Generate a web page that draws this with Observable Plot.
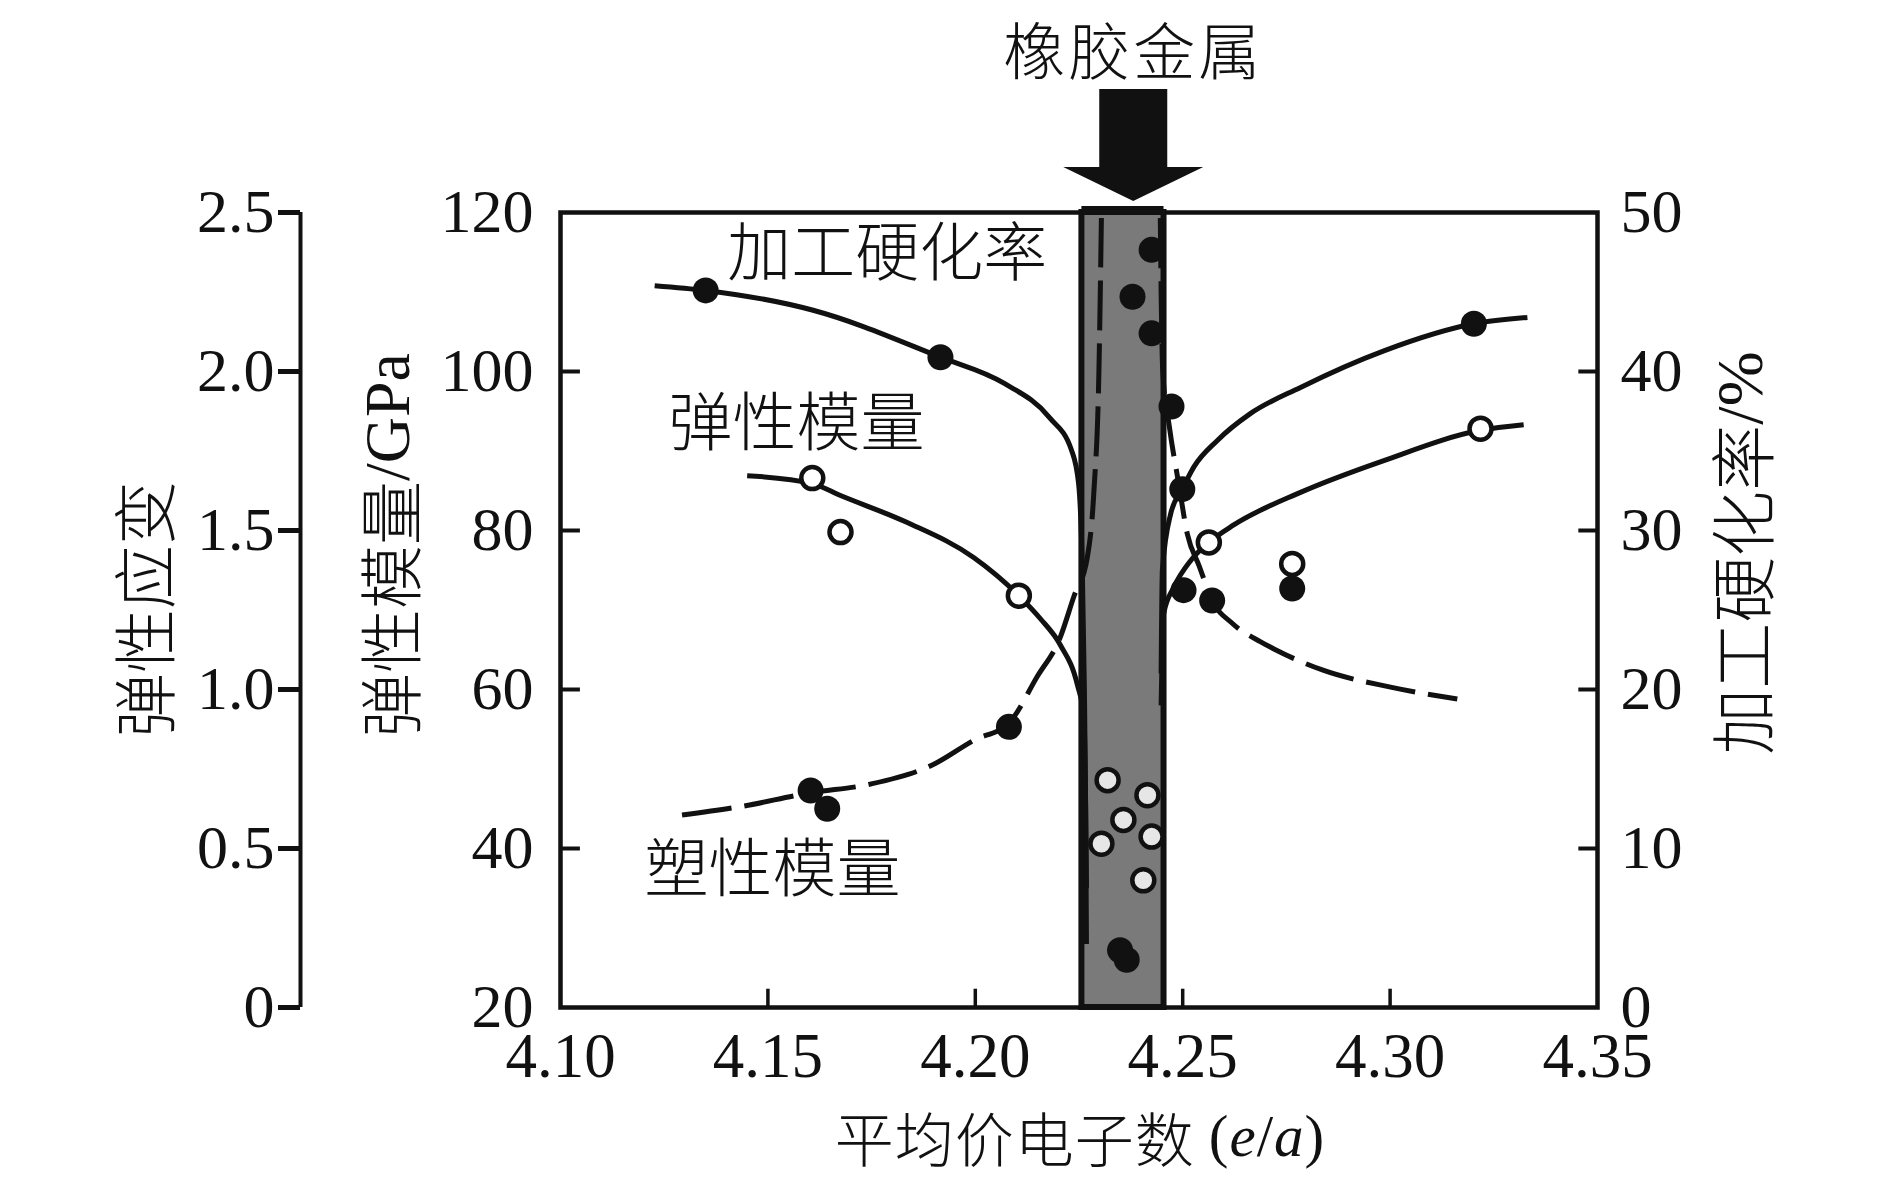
<!DOCTYPE html>
<html>
<head>
<meta charset="utf-8">
<script src="https://cdn.jsdelivr.net/npm/d3@7"></script>
<script src="https://cdn.jsdelivr.net/npm/@observablehq/plot@0.6"></script>
<style>
  html, body { margin: 0; padding: 0; background: #fff; }
  #chart { width: 1890px; height: 1181px; }
</style>
</head>
<body>
<div id="chart"></div>
<script>
// ---------- axes / ticks ----------
const xDomain = [4.10, 4.35];
const yDomain = [20, 120];                 // 弹性模量/GPa (left axis)
const xTicks = [4.10, 4.15, 4.20, 4.25, 4.30, 4.35];
const gpaTicks = [20, 40, 60, 80, 100, 120];
const pctTicks = [0, 10, 20, 30, 40, 50];  // 加工硬化率/% (right axis)
const strainTicks = [0, 0.5, 1.0, 1.5, 2.0, 2.5];
const strainLabels = ["0", "0.5", "1.0", "1.5", "2.0", "2.5"];
const band = [4.2257, 4.2455];             // 橡胶金属 region (e/a)
const arrowX = 4.2382;

// ---------- series: [e/a, value] ----------
// 加工硬化率 (%)
const hardeningLeft = [[4.1227,45.4],[4.1350,45.1],[4.1609,43.85],[4.1916,40.9],[4.2070,39.25],[4.2179,37.1],[4.2232,35.05],[4.2249,32.95],[4.2258,27.5],[4.2263,20],[4.2266,12.5],[4.2268,4]];
const hardeningRight = [[4.2448,21],[4.2451,27.5],[4.2471,31.05],[4.2499,32.6],[4.2527,34],[4.2583,35.65],[4.2663,37.35],[4.2784,39],[4.2985,41.3],[4.3202,43],[4.3331,43.4]];
const hardeningDots = [[4.1350,45.1],[4.1916,40.9],[4.3202,43.0],[4.2349,3.6],[4.2365,3.0]];

// 弹性模量 (GPa)
const modulusLeft = [[4.1450,86.9],[4.1607,85.9],[4.1675,84.4],[4.1836,81.0],[4.1996,76.6],[4.2105,71.8],[4.2157,68.9],[4.2205,65.6],[4.2246,60.6],[4.2262,56.5],[4.2266,45],[4.2268,35]];
const modulusRight = [[4.2448,58],[4.2454,69.5],[4.2479,72.9],[4.2519,76.2],[4.2563,78.5],[4.2623,80.7],[4.2784,84.8],[4.2985,88.8],[4.3218,92.6],[4.3322,93.3]];
const modulusDots = [[4.1607,86.6],[4.1675,79.8],[4.2105,71.8],[4.2563,78.5],[4.2764,75.8],[4.3218,92.8]];
const modulusBandDots = [[4.2319,48.6],[4.2415,46.7],[4.2357,43.6],[4.2304,40.6],[4.2425,41.5],[4.2405,36.0]];

// 塑性模量 (GPa)
const plasticLeft = [[4.1293,44.2],[4.1426,45.2],[4.1603,47.0],[4.1747,48.1],[4.1900,50.6],[4.1996,53.6],[4.2081,55.8],[4.2149,61.6],[4.2205,66.6],[4.2237,71.6],[4.2270,76.6],[4.2286,85],[4.2298,100],[4.2304,119.3]];
const plasticRight = [[4.2446,119.3],[4.2448,110],[4.2452,100],[4.2468,93],[4.2490,86],[4.2511,79.6],[4.2540,75.5],[4.2571,71.2],[4.2620,68.3],[4.2688,66.0],[4.2720,65.1],[4.2840,62.4],[4.3001,60.3],[4.3162,58.8]];
const plasticDots = [[4.1603,47.3],[4.1643,45.0],[4.2081,55.3],[4.2425,115.3],[4.2379,109.4],[4.2425,104.8],[4.2473,95.6],[4.2499,85.2],[4.2502,72.5],[4.2571,71.2],[4.2764,72.7]];

// in-plot labels
const curveLabels = [
  {text: "加工硬化率", x: 4.1788, y: 114.7},
  {text: "弹性模量", x: 4.1569, y: 93.3},
  {text: "塑性模量", x: 4.1511, y: 37.2}
];

// ---------- conversions to the plotted (GPa) scale ----------
const pct2gpa = p => 20 + 2 * p;
const gpa2pct = g => (g - 20) / 2;
const strain2gpa = s => 20 + 40 * s;
const asPct = arr => arr.map(([x, v]) => ({x, y: pct2gpa(v)}));
const asGpa = arr => arr.map(([x, v]) => ({x, y: v}));

const INK = "#111";
const LW = 5;
const serif = "'Liberation Serif','Times New Roman',serif";
const cjk = "'Noto Sans CJK SC','Liberation Serif',sans-serif";

const lineOpts = {x: "x", y: "y", stroke: INK, strokeWidth: LW, curve: "monotone-x", strokeLinecap: "butt"};
const dashOpts = {...lineOpts, strokeDasharray: "50,13"};

const plot = Plot.plot({
  width: 1890,
  height: 1181,
  marginLeft: 560,
  marginRight: 293,
  marginTop: 212,
  marginBottom: 174,
  x: {domain: xDomain},
  y: {domain: yDomain},
  style: {fontFamily: serif, color: INK, background: "#fff"},
  marks: [
    Plot.frame({stroke: INK, strokeWidth: 4.5}),
    // rubber-metal band
    Plot.rect([band], {x1: d => d[0], x2: d => d[1], y1: yDomain[0], y2: yDomain[1], fill: "#7a7a7a", stroke: INK, strokeWidth: 6}),
    Plot.ruleY([yDomain[1]], {x1: band[0], x2: band[1], stroke: INK, strokeWidth: 9, dy: -2}),
    // curves
    Plot.line(asPct(hardeningLeft), lineOpts),
    Plot.line(asPct(hardeningRight), lineOpts),
    Plot.line(asGpa(modulusLeft), lineOpts),
    Plot.line(asGpa(modulusRight), lineOpts),
    Plot.line(asGpa(plasticLeft), dashOpts),
    Plot.line(asGpa(plasticRight), dashOpts),
    // markers
    Plot.dot(asPct(hardeningDots), {x: "x", y: "y", r: 13, fill: INK}),
    Plot.dot(asGpa(plasticDots), {x: "x", y: "y", r: 13, fill: INK}),
    Plot.dot(asGpa(modulusDots), {x: "x", y: "y", r: 11, fill: "#fff", stroke: INK, strokeWidth: 4.5}),
    Plot.dot(asGpa(modulusBandDots), {x: "x", y: "y", r: 11, fill: "#e6e6e6", stroke: INK, strokeWidth: 4.5}),
    // labels in plot
    Plot.text(curveLabels, {x: "x", y: "y", text: "text", fontSize: 64, fontFamily: cjk, fontWeight: 300, fill: INK}),
    // inward ticks
    Plot.ruleX(xTicks.slice(1, -1), {y1: yDomain[0], y2: yDomain[0] + 2.3, stroke: INK, strokeWidth: 3.5}),
    Plot.ruleY(gpaTicks.slice(1, -1), {x1: xDomain[0], x2: xDomain[0] + 0.0048, stroke: INK, strokeWidth: 4}),
    Plot.ruleY(pctTicks.slice(1, -1).map(pct2gpa), {x1: xDomain[1] - 0.0045, x2: xDomain[1], stroke: INK, strokeWidth: 4}),
    // axes
    Plot.axisX({ticks: xTicks, tickFormat: d => d.toFixed(2), tickSize: 0, tickPadding: 25, fontSize: 63, label: null}),
    Plot.axisY({anchor: "left", ticks: gpaTicks, tickSize: 0, tickPadding: 27, fontSize: 62, label: null}),
    Plot.axisY({anchor: "right", ticks: pctTicks.map(pct2gpa), tickFormat: d => String(gpa2pct(d)), tickSize: 0, tickPadding: 23, fontSize: 62, label: null}),
    // outer 弹性应变 axis
    Plot.ruleX([xDomain[0]], {dx: -260, stroke: INK, strokeWidth: 4}),
    Plot.axisY({anchor: "left", ticks: strainTicks.map(strain2gpa), tickFormat: d => strainLabels[strainTicks.indexOf((d - 20) / 40)], dx: -260, tickSize: 22, tickPadding: 4, strokeWidth: 5, fontSize: 62, label: null})
  ]
});

document.getElementById("chart").appendChild(plot);

// ---------- annotations outside the frame ----------
const svg = d3.select(plot);
const xs = plot.scale("x");
const cx = xs.apply(arrowX);
const frameTop = 212;
svg.append("path")
  .attr("d", `M${cx - 34},${frameTop - 123} L${cx + 34},${frameTop - 123} L${cx + 34},${frameTop - 45} L${cx + 70},${frameTop - 45} L${cx},${frameTop - 11} L${cx - 70},${frameTop - 45} L${cx - 34},${frameTop - 45} Z`)
  .attr("fill", INK);

svg.append("text")
  .attr("x", cx).attr("y", 48)
  .attr("text-anchor", "middle").attr("dominant-baseline", "central")
  .style("font-family", cjk).style("font-size", "62px").style("font-weight", 300).style("letter-spacing", "3px")
  .attr("fill", INK)
  .text("橡胶金属");

function vlabel(x, y, parts, size) {
  const t = svg.append("text")
    .attr("transform", `translate(${x},${y}) rotate(-90)`)
    .attr("text-anchor", "middle").attr("dominant-baseline", "central")
    .attr("fill", INK).style("font-size", size + "px");
  parts.forEach(([s, fam]) => t.append("tspan").style("font-family", fam).style("font-weight", fam === cjk ? 300 : 400).text(s));
}
vlabel(141, 609, [["弹性应变", cjk]], 64);
vlabel(387, 545, [["弹性模量", cjk], ["/GPa", serif]], 64);
vlabel(1739, 553, [["加工硬化率", cjk], ["/%", serif]], 66);

const xl = svg.append("text")
  .attr("x", 1080).attr("y", 1136)
  .attr("text-anchor", "middle").attr("dominant-baseline", "central")
  .attr("fill", INK).style("font-size", "59px").style("letter-spacing", "1px");
xl.append("tspan").style("font-family", cjk).style("font-weight", 300).text("平均价电子数 ");
xl.append("tspan").style("font-family", serif).text("(");
xl.append("tspan").style("font-family", serif).style("font-style", "italic").text("e");
xl.append("tspan").style("font-family", serif).text("/");
xl.append("tspan").style("font-family", serif).style("font-style", "italic").text("a");
xl.append("tspan").style("font-family", serif).text(")");
</script>
</body>
</html>
